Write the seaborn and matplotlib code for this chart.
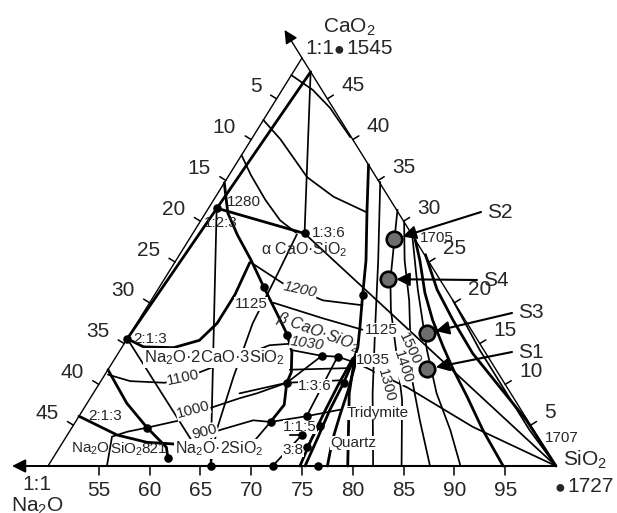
import matplotlib
matplotlib.use("Agg")
import matplotlib.pyplot as plt
import seaborn as sns
import pandas as pd

# Compositions, wt% (SiO2, CaO); Na2O is the remainder
sio2_ticks = [55, 60, 65, 70, 75, 80, 85, 90, 95]
cao_ticks = [5, 10, 15, 20, 25, 30, 35, 40, 45]
na2o_ticks = [5, 10, 15, 20, 25, 30, 35, 40, 45]

# compound join lines
tie_cs_213 = [(51.7, 48.3), (50.0, 15.6)]
tie_cs_136 = [(51.7, 48.3), (61.0, 28.5)]
tie_123_136 = [(50.8, 31.6), (61.0, 28.5)]
tie_123_n2s = [(50.8, 31.6), (66.0, 0.0)]
tie_136_sio2 = [(61.0, 28.5), (100.0, 0.0)]
tie_213_low = [(50.0, 15.6), (62.8, 2.9)]
tie_136_n2s = [(60.3, 28.4), (60.9, 22.8), (61.4, 17.5), (62.8, 10.9), (64.4, 4.4), (66.0, 0.0)]

# field boundaries (heavy)
bnd_devit = [(50.0, 34.7), (52.2, 31.0), (54.5, 28.3), (57.4, 25.2), (60.3, 21.9), (63.0, 18.9),
             (65.5, 16.1), (67.0, 14.0), (68.2, 11.5), (68.4, 10.2), (69.5, 7.5), (69.2, 5.4)]
bnd_123_field = [(50.0, 15.6), (52.1, 14.6), (55.1, 14.5), (57.2, 15.4), (57.9, 17.5),
                 (57.9, 21.0), (57.4, 24.9)]
bnd_213_low = [(50.0, 6.1), (54.9, 3.8), (58.3, 2.9), (61.0, 2.7), (62.9, 2.8)]
bnd_ns = [(50.0, 11.8), (53.9, 7.7), (57.4, 4.7), (60.5, 2.3), (61.3, 1.0)]
bnd_silica = [(63.1, 36.9), (65.7, 31.4), (68.7, 25.2), (70.6, 20.7), (72.2, 17.0),
              (73.2, 14.6), (73.5, 13.4), (75.2, 8.9), (79.5, 0.0)]
bnd_quartz_a = [(73.5, 13.4), (74.0, 10.2), (74.3, 6.9), (74.8, 3.6), (75.3, 0.0)]
bnd_quartz_b = [(73.4, 13.2), (73.6, 9.9), (73.9, 6.6), (74.3, 3.2), (74.8, 0.0)]
bnd_quartz_c = [(73.8, 13.2), (74.9, 9.3), (75.6, 6.3), (76.4, 3.2), (77.5, 0.0)]
iso_1705 = [(72.3, 27.7), (74.0, 25.2), (76.5, 21.2), (78.9, 17.9), (81.6, 14.6),
            (84.0, 11.8), (87.0, 8.5), (90.6, 4.4), (94.8, 0.0)]
bnd_apex_a = [(74.2, 25.9), (77.5, 21.6), (80.9, 17.9), (84.9, 13.8), (89.6, 9.7),
              (94.3, 5.6), (100.0, 0.0)]

# isotherms (light)
iso_top = [(50.0, 47.9), (53.0, 46.1), (55.8, 43.9), (59.6, 40.3)]
iso_2 = [(50.0, 42.4), (52.9, 40.0), (57.8, 35.4), (61.6, 33.0), (65.8, 31.1)]
iso_1280 = [(50.0, 38.1), (52.1, 35.7), (55.1, 32.6), (57.8, 30.1), (60.1, 28.6)]
iso_1200 = [(57.4, 25.0), (61.9, 22.4), (66.9, 20.3), (71.1, 19.7)]
iso_1125 = [(62.2, 20.0), (68.0, 18.1), (72.6, 16.7)]
iso_1100 = [(50.3, 11.2), (52.9, 10.4), (56.4, 10.2), (59.2, 11.5), (62.2, 13.4),
            (64.4, 14.8), (66.5, 15.0)]
iso_1000 = [(55.8, 0.0), (54.5, 3.6), (55.7, 4.2), (57.4, 4.7), (60.2, 5.6), (62.4, 7.1),
            (64.7, 8.3), (66.1, 8.9), (68.4, 10.2)]
iso_900 = [(62.9, 2.8), (64.7, 4.4), (67.4, 5.6), (69.2, 5.4), (72.4, 6.1), (75.3, 6.9)]
iso_1030 = [(66.9, 14.2), (70.2, 13.5), (71.8, 13.4), (74.1, 12.6), (80.6, 9.6),
            (89.4, 4.8), (100.0, 0.0)]
iso_1300 = [(65.3, 34.8), (69.9, 25.2), (73.7, 17.0), (77.5, 8.9), (82.0, 0.0)]
iso_1400 = [(68.7, 31.4), (70.2, 27.8), (72.3, 22.8), (74.2, 19.1), (77.4, 13.8),
            (80.8, 8.1), (84.8, 0.0)]
iso_1500 = [(70.1, 29.9), (72.5, 25.2), (75.4, 20.3), (77.6, 16.1), (80.6, 10.5),
            (83.8, 5.6), (87.6, 0.0)]
iso_1600 = [(71.7, 28.3), (75.6, 21.6), (80.2, 14.2), (83.8, 8.9), (87.4, 4.4), (90.6, 0.0)]
bnd_apex_b = [(79.7, 20.3), (85.4, 14.2), (90.3, 9.3), (95.2, 4.4), (100.0, 0.0)]
join_136_a = [(67.9, 11.8), (73.7, 12.0)]
join_136_b = [(64.4, 8.9), (68.4, 10.2), (73.5, 10.5)]
join_115_a = [(71.9, 3.8), (73.1, 3.8), (74.3, 4.9)]
join_115_b = [(70.2, 13.5), (68.4, 10.2)]
join_115_c = [(71.8, 13.4), (72.4, 6.1)]
join_38_a = [(69.2, 5.4), (68.4, 1.0)]
join_38_b = [(73.1, 3.8), (72.1, 0.0)]
join_38_c = [(74.3, 4.9), (74.3, 2.3)]

# invariant / compound points
dot_si = [50.8, 61.0, 50.0, 60.3, 65.5, 70.2, 71.8, 68.4, 70.5, 74.0, 69.2, 72.4,
          74.3, 73.1, 74.3, 72.1, 76.6, 57.4, 61.3, 66.0]
dot_ca = [31.6, 28.5, 15.6, 21.9, 16.1, 13.5, 13.4, 10.2, 21.0, 10.2, 5.4, 6.1,
          4.9, 3.8, 2.3, 0.0, 0.0, 4.7, 1.0, 0.0]

# samples
sample_names = ["S1", "S2", "S3", "S4"]
sample_si = [81.4, 70.2, 79.2, 72.0]
sample_ca = [11.9, 27.8, 16.3, 22.9]

# triangle corners in figure pixels (Na2O.SiO2, SiO2, CaO.SiO2)
A = (48, 466)
B = (556, 466)
C = (302, 58)


def to_xy(si, ca):
    na = 100 - si - ca
    x = (na * A[0] + ca * C[0] + (si - 50) * B[0]) / 50
    y = (na * A[1] + ca * C[1] + (si - 50) * B[1]) / 50
    return x, y


def curve_xy(pts):
    xs, ys = zip(*[to_xy(s, c) for s, c in pts])
    return list(xs), list(ys)


sns.set_style("white")
plt.rcParams["font.family"] = ["Liberation Sans", "DejaVu Sans"]
plt.rcParams["mathtext.fontset"] = "custom"
plt.rcParams["mathtext.rm"] = "Liberation Sans"
plt.rcParams["mathtext.it"] = "Liberation Sans:italic"

fig = plt.figure(figsize=(6.17, 5.13), dpi=100)
ax = fig.add_axes([0, 0, 1, 1])
ax.set_xlim(0, 617)
ax.set_ylim(513, 0)
ax.axis("off")

# frame: thin sides, base, arrows
ax.plot([A[0], C[0]], [A[1], C[1]], color="black", lw=1.0)
ax.plot([B[0], C[0]], [B[1], C[1]], color="black", lw=1.0)
ax.plot([A[0], B[0]], [A[1], B[1]], color="black", lw=1.5)
ax.annotate("", xy=(A[0] - 36, A[1]), xytext=(A[0], A[1]),
            arrowprops=dict(arrowstyle="-|>", color="black", lw=1.4, mutation_scale=20,
                            shrinkA=0, shrinkB=0))
ux, uy = (C[0] - B[0]), (C[1] - B[1])
n = (ux ** 2 + uy ** 2) ** 0.5
ax.annotate("", xy=(C[0] + 33 * ux / n, C[1] + 33 * uy / n), xytext=C,
            arrowprops=dict(arrowstyle="-|>", color="black", lw=1.0, mutation_scale=20,
                            shrinkA=0, shrinkB=0))

heavy = [tie_cs_213, tie_123_136, bnd_devit, bnd_123_field, bnd_213_low, bnd_ns,
         bnd_silica, bnd_quartz_a, bnd_quartz_b, bnd_quartz_c, iso_1705, bnd_apex_a]
light = [tie_cs_136, tie_123_n2s, tie_136_sio2, tie_213_low, tie_136_n2s,
         iso_top, iso_2, iso_1280, iso_1200, iso_1125, iso_1100, iso_1000, iso_900,
         iso_1030, iso_1300, iso_1400, iso_1500, iso_1600, bnd_apex_b,
         join_136_a, join_136_b, join_115_a, join_115_b, join_115_c,
         join_38_a, join_38_b, join_38_c]
for pts in heavy:
    xs, ys = curve_xy(pts)
    ax.plot(xs, ys, color="black", lw=2.0, solid_capstyle="round")
for pts in light:
    xs, ys = curve_xy(pts)
    ax.plot(xs, ys, color="black", lw=1.25)

# ticks and tick labels
for s in sio2_ticks:
    x, y = to_xy(s, 0)
    ax.plot([x, x], [y, y + 9], color="black", lw=1.1)
    ax.text(x, y + 24, str(s), fontsize=15, ha="center", va="center")
for c in cao_ticks:
    x, y = to_xy(100 - c, c)
    ax.plot([x, x + 6], [y, y - 3.7], color="black", lw=1.1)
    ax.text(x + 14, y - 13, str(c), fontsize=15, ha="left", va="center")
for v in na2o_ticks:
    x, y = to_xy(50, 50 - v)
    ax.plot([x, x - 6], [y, y - 3.7], color="black", lw=1.1)
    ax.text(x - 15, y - 12, str(v), fontsize=15, ha="right", va="center")

# points
dx, dy = zip(*[to_xy(s, c) for s, c in zip(dot_si, dot_ca)])
sns.scatterplot(x=list(dx), y=list(dy), color="black", s=38, linewidth=0, ax=ax, zorder=5)

df = pd.DataFrame({"name": sample_names, "si": sample_si, "ca": sample_ca})
df["x"], df["y"] = zip(*[to_xy(s, c) for s, c in zip(df.si, df.ca)])
sns.scatterplot(data=df, x="x", y="y", color="#6e6e6e", s=125, edgecolor="black",
                linewidth=1.9, ax=ax, zorder=6)

label_pos = {"S1": (518, 352), "S2": (487, 212), "S3": (518, 313), "S4": (483, 280)}
for _, r in df.iterrows():
    tx, ty = label_pos[r["name"]]
    ax.text(tx, ty, r["name"], fontsize=15, ha="left", va="center")
    vx, vy = tx - 6 - r.x, ty - r.y
    d = (vx ** 2 + vy ** 2) ** 0.5
    ax.annotate("", xy=(r.x + 8.5 * vx / d, r.y + 8.5 * vy / d), xytext=(tx - 6, ty),
                arrowprops=dict(arrowstyle="-|>", color="black", lw=1.5, mutation_scale=20,
                                shrinkA=0, shrinkB=0), zorder=7)

# corner labels
ax.text(323, 27, "CaO$_2$", fontsize=15, ha="left", va="center")
ax.text(305, 49, "1:1", fontsize=15, ha="left", va="center")
ax.text(339, 50, "\u25cf", fontsize=13, ha="center", va="center")
ax.text(346, 49, "1545", fontsize=15, ha="left", va="center")
ax.text(37, 484, "1:1", fontsize=15, ha="center", va="center")
ax.text(37, 506, "Na$_2$O", fontsize=15, ha="center", va="center")
ax.text(563, 460, "SiO$_2$", fontsize=15, ha="left", va="center")
ax.text(560, 488, "\u25cf", fontsize=13, ha="center", va="center")
ax.text(567, 487, "1727", fontsize=15, ha="left", va="center")

# field and temperature labels
small = dict(fontsize=11, ha="center", va="center")
boxed = dict(facecolor="white", edgecolor="none", pad=0.3)
ax.text(244, 202, "1280", **small)
ax.text(221, 223, "1:2:3", **small)
ax.text(329, 233, "1:3:6", **small)
ax.text(304, 250, "\u03b1 CaO\u00b7SiO$_2$", fontsize=11.5, ha="center", va="center")
ax.text(251, 304, "1125", **small, bbox=boxed)
ax.text(300, 290, "1200", fontsize=11, ha="center", va="center", rotation=-12,
        style="italic", bbox=boxed)
ax.text(318, 332, "\u03b2 CaO\u00b7SiO$_2$", fontsize=11.5, ha="center", va="center",
        rotation=-20, style="italic")
ax.text(307, 343, "1030", fontsize=11, ha="center", va="center", rotation=-8,
        style="italic", bbox=boxed)
ax.text(315, 386, "1:3:6", **small, bbox=boxed)
ax.text(300, 427, "1:1:5", **small, bbox=boxed)
ax.text(293, 450, "3:8", **small, bbox=boxed)
ax.text(378, 413, "Tridymite", **small, bbox=boxed)
ax.text(353, 443, "Quartz", **small, bbox=boxed)
ax.text(381, 330, "1125", **small, bbox=boxed)
ax.text(373, 360, "1035", **small, bbox=boxed)
ax.text(410, 349, "1500", fontsize=11, ha="center", va="center", rotation=-65, bbox=boxed)
ax.text(403, 367, "1400", fontsize=11, ha="center", va="center", rotation=-72, bbox=boxed)
ax.text(386, 385, "1300", fontsize=11, ha="center", va="center", rotation=-75, bbox=boxed)
ax.text(437, 238, "1705", **small)
ax.text(562, 438, "1707", **small)
ax.text(214, 358, "Na$_2$O\u00b72CaO\u00b73SiO$_2$", fontsize=12, ha="center", va="center",
        bbox=boxed)
ax.text(183, 378, "1100", fontsize=11, ha="center", va="center", rotation=12, bbox=boxed)
ax.text(193, 410, "1000", fontsize=11, ha="center", va="center", rotation=15, bbox=boxed)
ax.text(205, 432, "900", fontsize=11, ha="center", va="center", rotation=15, bbox=boxed)
ax.text(150, 339, "2:1:3", **small)
ax.text(105, 416, "2:1:3", **small)
ax.text(91, 449, "Na$_2$O", **small)
ax.text(126, 449, "SiO$_2$", **small)
ax.text(154, 449, "821", **small)
ax.text(219, 449, "Na$_2$O\u00b72SiO$_2$", fontsize=11.5, ha="center", va="center", bbox=boxed)

fig.savefig("out.png", dpi=100)
